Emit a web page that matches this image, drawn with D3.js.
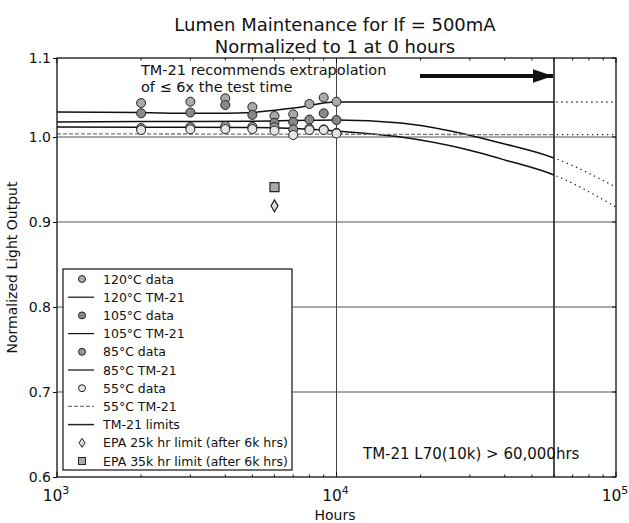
<!DOCTYPE html>
<html><head><meta charset="utf-8">
<script src="https://cdn.jsdelivr.net/npm/d3@7"></script>
<style>body{margin:0;background:#fff}text{font-family:"DejaVu Sans",sans-serif;fill:#111}</style>
</head><body>
<svg id="c" width="629" height="523"></svg>
<script>
// ---- data ----
const title1 = "Lumen Maintenance for If = 500mA";
const title2 = "Normalized to 1 at 0 hours";
const dataHours = [2000, 3000, 4000, 5000, 6000, 7000, 8000, 9000, 10000];
const data120 = [1.043, 1.0447, 1.049, 1.038, 1.0266, 1.0287, 1.0418, 1.050, 1.0447];
const data105 = [1.030, 1.031, 1.0405, 1.028, 1.018, 1.019, 1.022, 1.030, 1.0215];
const data85  = [1.0114, 1.0127, 1.014, 1.013, 1.0123, 1.0097, 1.0108, 1.0097, 1.0054];
const data55  = [1.0089, 1.0097, 1.010, 1.010, 1.008, 1.0025, 1.0089, 1.0089, 1.0044];
const fitHours120 = [1000, 2000, 3000, 4000, 5000, 7000, 10000, 60000, 100000];
const fit120 = [1.0316, 1.031, 1.030, 1.030, 1.031, 1.0367, 1.0443, 1.0443, 1.0443];
const fitHours105 = [1000, 2000, 5000, 10000, 17000, 25600, 38700, 60000, 100000];
const fit105 = [1.019, 1.0196, 1.020, 1.0215, 1.0177, 1.0076, 0.9929, 0.9753, 0.941];
const fitHours85 = [1000, 2000, 5000, 10000, 17000, 27800, 40000, 60000, 100000];
const fit85 = [1.0127, 1.0125, 1.012, 1.0076, 1.000, 0.987, 0.973, 0.9553, 0.9176];
const fitHours55 = [1000, 10000, 60000, 100000];
const fit55 = [1.004, 1.0035, 1.003, 1.003];
const limitHours = 60000;
const testHours = 10000;
const epaHours = [6000];
const epa25 = [0.919];
const epa35 = [0.941];
const yTicks = [0.6, 0.7, 0.8, 0.9, 1.0, 1.1];
const xTicks = [1000, 10000, 100000];
const xTickExp = ["3", "4", "5"];
const legendLabels = ["120°C data", "120°C TM-21", "105°C data", "105°C TM-21", "85°C data", "85°C TM-21",
  "55°C data", "55°C TM-21", "TM-21 limits", "EPA 25k hr limit (after 6k hrs)", "EPA 35k hr limit (after 6k hrs)"];
const note1 = "TM-21 recommends extrapolation";
const note2 = "of ≤ 6x the test time";
const note3 = "TM-21 L70(10k) > 60,000hrs";

// ---- layout ----
const L = 57, R = 616, T = 58, B = 477;
const svg = d3.select("#c");
const x = d3.scaleLog().domain([1000, 100000]).range([L, R]);
const y = d3.scaleLinear().domain([0.6, 1.0, 1.1]).range([B, 137, T]);

const g = svg.append("g");
// grid lines
g.selectAll(".hg").data([0.7, 0.8, 0.9, 1.0]).join("line")
  .attr("x1", L).attr("x2", R).attr("y1", d => y(d)).attr("y2", d => y(d))
  .attr("stroke", "#555").attr("stroke-width", 1);
g.append("line").attr("x1", x(testHours)).attr("x2", x(testHours)).attr("y1", T).attr("y2", B)
  .attr("stroke", "#444").attr("stroke-width", 1);
g.append("line").attr("x1", x(limitHours)).attr("x2", x(limitHours)).attr("y1", T).attr("y2", B)
  .attr("stroke", "#222").attr("stroke-width", 1.6);

// fit lines
const fits = [
  {h: fitHours120, v: fit120, c: "#111", w: 1.5, dash: null},
  {h: fitHours105, v: fit105, c: "#111", w: 1.5, dash: null},
  {h: fitHours85, v: fit85, c: "#111", w: 1.5, dash: null},
  {h: fitHours55, v: fit55, c: "#777", w: 1.3, dash: "4,2"}
];
const line = d3.line().x(d => x(d[0])).y(d => y(d[1])).curve(d3.curveMonotoneX);
svg.append("clipPath").attr("id", "solid").append("rect").attr("x", L).attr("y", T).attr("width", x(limitHours) - L).attr("height", B - T);
svg.append("clipPath").attr("id", "dots").append("rect").attr("x", x(limitHours) + 2).attr("y", T).attr("width", R - x(limitHours) - 2).attr("height", B - T);
fits.forEach(f => {
  const pts = f.h.map((h, i) => [h, f.v[i]]);
  g.append("path").attr("d", line(pts)).attr("fill", "none").attr("stroke", f.c)
    .attr("stroke-width", f.w).attr("stroke-dasharray", f.dash).attr("clip-path", "url(#solid)");
  g.append("path").attr("d", line(pts)).attr("fill", "none").attr("stroke", "#222")
    .attr("stroke-width", 1.3).attr("stroke-dasharray", "1.3,3.7").attr("clip-path", "url(#dots)");
});

// data markers
const series = [
  {v: data120, fill: "#aaa"}, {v: data105, fill: "#888"}, {v: data85, fill: "#999"}, {v: data55, fill: "#e4e4e4"}
];
series.forEach(s => {
  g.selectAll(null).data(dataHours.map((h, i) => [h, s.v[i]])).join("circle")
    .attr("cx", d => x(d[0])).attr("cy", d => y(d[1])).attr("r", 4.5)
    .attr("fill", s.fill).attr("stroke", "#222").attr("stroke-width", 1);
});
// EPA markers
g.selectAll(null).data(epaHours.map((h, i) => [h, epa25[i]])).join("path")
  .attr("transform", d => `translate(${x(d[0])},${y(d[1])})`)
  .attr("d", "M0,-6L3.5,0L0,6L-3.5,0Z").attr("fill", "#ddd").attr("stroke", "#222").attr("stroke-width", 1.2);
g.selectAll(null).data(epaHours.map((h, i) => [h, epa35[i]])).join("rect")
  .attr("x", d => x(d[0]) - 4.5).attr("y", d => y(d[1]) - 4.5).attr("width", 9).attr("height", 9)
  .attr("fill", "#aaa").attr("stroke", "#222").attr("stroke-width", 1.2);

// frame
g.append("rect").attr("x", L).attr("y", T).attr("width", R - L).attr("height", B - T)
  .attr("fill", "none").attr("stroke", "#111").attr("stroke-width", 1.3);

// x ticks (major and minor, inward)
const allX = d3.range(3, 5).flatMap(e => d3.range(1, 10).map(k => k * Math.pow(10, e))).concat([100000]);
allX.forEach(v => {
  const major = xTicks.includes(v);
  const len = major ? 5 : 2.5;
  g.append("line").attr("x1", x(v)).attr("x2", x(v)).attr("y1", B).attr("y2", B - len).attr("stroke", "#111");
  g.append("line").attr("x1", x(v)).attr("x2", x(v)).attr("y1", T).attr("y2", T + len).attr("stroke", "#111");
});
const yAxis = d3.axisLeft(y).tickValues(yTicks).tickSize(4).tickPadding(2).tickFormat(d3.format(".1f"));
const ya = svg.append("g").attr("transform", `translate(${L},0)`).call(yAxis);
ya.select(".domain").remove();
ya.selectAll("text").style("font-size", "14px").attr("fill", "#111");
ya.selectAll("line").attr("stroke", "#111");
yTicks.forEach(v => {
  g.append("line").attr("x1", R).attr("x2", R - 4).attr("y1", y(v)).attr("y2", y(v)).attr("stroke", "#111");
});
// x tick labels with superscripts
xTicks.forEach((v, i) => {
  const t = svg.append("text").attr("x", x(v) - 1).attr("y", 501).attr("text-anchor", "middle").style("font-size", "15.5px");
  t.append("tspan").text("10");
  t.append("tspan").attr("dy", -7).style("font-size", "11px").text(xTickExp[i]);
});

// titles
svg.append("text").attr("x", 335).attr("y", 31).attr("text-anchor", "middle").style("font-size", "18px").text(title1);
svg.append("text").attr("x", 335).attr("y", 53).attr("text-anchor", "middle").style("font-size", "18px").text(title2);
svg.append("text").attr("x", 335).attr("y", 520).attr("text-anchor", "middle").style("font-size", "14px").text("Hours");
svg.append("text").attr("transform", `translate(17,${(T + B) / 2}) rotate(-90)`).attr("text-anchor", "middle")
  .style("font-size", "14px").text("Normalized Light Output");

// annotations
svg.append("text").attr("x", 141).attr("y", 75).style("font-size", "14.5px").text(note1);
svg.append("text").attr("x", 141).attr("y", 92).style("font-size", "14.5px").text(note2);
svg.append("defs").append("marker").attr("id", "ah").attr("viewBox", "0 0 10 10").attr("refX", 10).attr("refY", 5)
  .attr("markerWidth", 5).attr("markerHeight", 3.4).attr("orient", "auto").attr("preserveAspectRatio", "none")
  .append("path").attr("d", "M0,0L10,5L0,10Z").attr("fill", "#111");
svg.append("line").attr("x1", 420).attr("x2", x(limitHours) - 1).attr("y1", 76).attr("y2", 76)
  .attr("stroke", "#111").attr("stroke-width", 4).attr("marker-end", "url(#ah)");
svg.append("text").attr("x", 363).attr("y", 459).style("font-size", "15px").text(note3);

// legend
const lg = svg.append("g");
const lx = 63, ly = 269, lw = 229, lh = 201, rowH = 18.2;
lg.append("rect").attr("x", lx).attr("y", ly).attr("width", lw).attr("height", lh)
  .attr("fill", "#fff").attr("stroke", "#111").attr("stroke-width", 1.2);
legendLabels.forEach((lab, i) => {
  const cy = ly + 10 + i * rowH;
  const mx = lx + 19;
  if (i < 8 && i % 2 === 0) {
    lg.append("circle").attr("cx", mx).attr("cy", cy).attr("r", 3.5)
      .attr("fill", series[i / 2].fill).attr("stroke", "#222");
  } else if (i < 8) {
    const f = fits[(i - 1) / 2];
    lg.append("line").attr("x1", lx + 5).attr("x2", lx + 31).attr("y1", cy).attr("y2", cy)
      .attr("stroke", f.c).attr("stroke-width", 1.2).attr("stroke-dasharray", f.dash);
  } else if (i === 8) {
    lg.append("line").attr("x1", lx + 5).attr("x2", lx + 31).attr("y1", cy).attr("y2", cy)
      .attr("stroke", "#222").attr("stroke-width", 1.5);
  } else if (i === 9) {
    lg.append("path").attr("transform", `translate(${mx},${cy})`).attr("d", "M0,-4.5L3,0L0,4.5L-3,0Z")
      .attr("fill", "#ddd").attr("stroke", "#222");
  } else {
    lg.append("rect").attr("x", mx - 3.5).attr("y", cy - 3.5).attr("width", 7).attr("height", 7)
      .attr("fill", "#aaa").attr("stroke", "#222");
  }
  lg.append("text").attr("x", lx + 40).attr("y", cy + 4.5).style("font-size", "12.5px").text(lab);
});
</script>
</body></html>
